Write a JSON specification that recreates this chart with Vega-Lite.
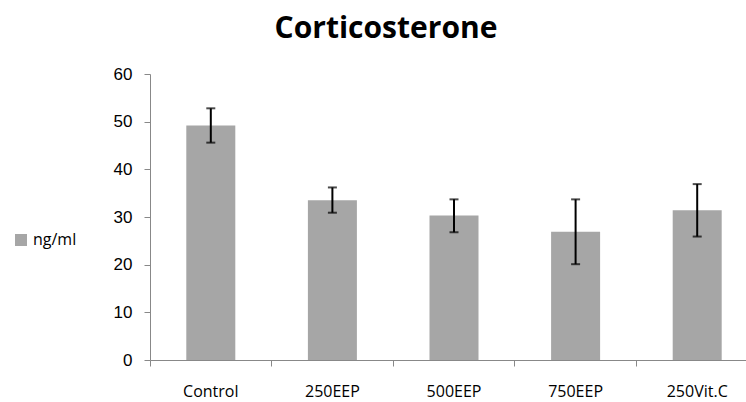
{
  "$schema": "https://vega.github.io/schema/vega-lite/v6.json",
  "autosize": "none",
  "padding": {"left": 150, "top": 74, "right": 0, "bottom": 42},
  "width": 608,
  "height": 286,
  "background": "white",
  "view": {"stroke": null},
  "title": {
    "text": "Corticosterone",
    "font": "Open Sans",
    "fontSize": 30,
    "fontWeight": "bold",
    "color": "#000000",
    "anchor": "middle",
    "dx": -68,
    "offset": 21
  },
  "data": {
    "values": [
      {"group": "Control", "series": "ng/ml", "mean": 49.2, "lo": 45.6, "hi": 52.8},
      {"group": "250EEP", "series": "ng/ml", "mean": 33.5, "lo": 30.9, "hi": 36.2},
      {"group": "500EEP", "series": "ng/ml", "mean": 30.3, "lo": 26.8, "hi": 33.7},
      {"group": "750EEP", "series": "ng/ml", "mean": 26.9, "lo": 20.1, "hi": 33.7},
      {"group": "250Vit.C", "series": "ng/ml", "mean": 31.4, "lo": 25.9, "hi": 36.9}
    ]
  },
  "encoding": {
    "x": {
      "field": "group",
      "type": "nominal",
      "sort": null,
      "scale": {"paddingInner": 0, "paddingOuter": 0},
      "axis": {
        "title": null,
        "labelAngle": 0,
        "labelAlign": "center",
        "bandPosition": 0,
        "labelFont": "Open Sans",
        "labelFontSize": 16,
        "labelColor": "#000000",
        "labelPadding": 17,
        "tickSize": 6,
        "tickColor": "#888888",
        "domainColor": "#888888",
        "domainWidth": 1,
        "grid": false
      }
    }
  },
  "layer": [
    {
      "mark": {"type": "bar", "size": 49, "color": "#a6a6a6"},
      "encoding": {
        "y": {
          "field": "mean",
          "type": "quantitative",
          "scale": {"domain": [0, 60], "nice": false},
          "axis": {
            "title": null,
            "values": [0, 10, 20, 30, 40, 50, 60],
            "labelFont": "Liberation Sans",
            "labelFontSize": 17,
            "labelColor": "#000000",
            "labelPadding": 12,
            "tickSize": 6,
            "tickColor": "#888888",
            "domainColor": "#888888",
            "grid": false
          }
        },
        "color": {
          "field": "series",
          "type": "nominal",
          "scale": {"range": ["#a6a6a6"]},
          "legend": {
            "title": null,
            "orient": "none",
            "legendX": -137,
            "legendY": 158,
            "symbolType": "square",
            "symbolSize": 144,
            "symbolStrokeWidth": 0,
            "labelFont": "Open Sans",
            "labelFontSize": 16,
            "labelColor": "#000000",
            "labelOffset": 4
          }
        }
      }
    },
    {
      "mark": {"type": "rule", "color": "#000000", "strokeWidth": 2},
      "encoding": {
        "y": {"field": "lo", "type": "quantitative"},
        "y2": {"field": "hi"}
      }
    },
    {
      "mark": {"type": "tick", "color": "#000000", "size": 9, "thickness": 2, "orient": "horizontal"},
      "encoding": {"y": {"field": "lo", "type": "quantitative"}}
    },
    {
      "mark": {"type": "tick", "color": "#000000", "size": 9, "thickness": 2, "orient": "horizontal"},
      "encoding": {"y": {"field": "hi", "type": "quantitative"}}
    }
  ]
}
